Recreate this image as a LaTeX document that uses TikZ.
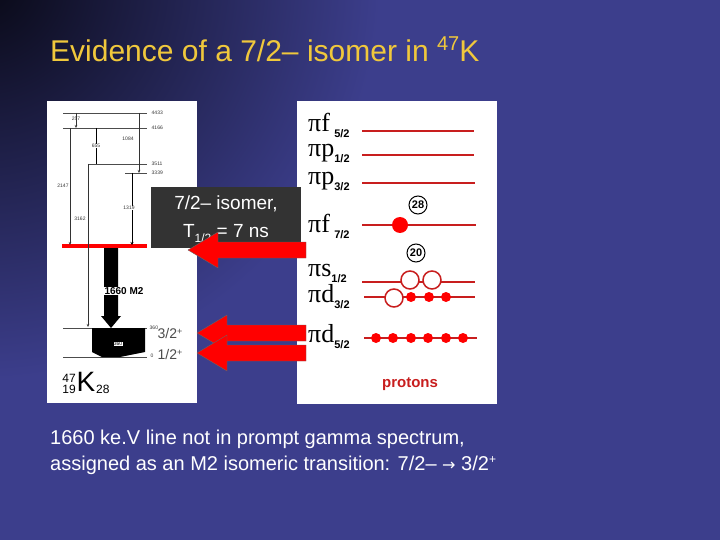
\documentclass[tikz,border=0pt]{standalone}
\usepackage{fontspec}
\setmainfont{Liberation Sans}
\newfontfamily\symf{Liberation Serif}
\newfontfamily\subf{Liberation Sans}
\usetikzlibrary{arrows.meta,calc}
\definecolor{bgA}{RGB}{8,8,20}
\definecolor{bgB}{RGB}{60,62,140}
\definecolor{lred}{RGB}{200,30,30}
\definecolor{gold}{RGB}{240,200,60}
\newcommand{\osub}[1]{\raisebox{-6pt}{\subf\bfseries\fontsize{11}{12}\selectfont #1}}
\begin{document}
\begin{tikzpicture}[x=1pt,y=-1pt,
  lvl/.style={line width=0.8pt,black!70},
  tr/.style={line width=0.5pt,black!80,-{Stealth[length=3pt,width=2.5pt]}},
  tiny/.style={font=\fontsize{5}{6}\selectfont,text=black!80,inner sep=0.5pt},
  orb/.style={draw=lred,line width=1.5pt},
  olab/.style={font=\symf\fontsize{26}{28}\selectfont,anchor=west,inner sep=0pt},
  bigarrow/.style={fill=red,draw=black!60,line width=0.4pt}]
\useasboundingbox (0,0) rectangle (720,540);
\begin{scope}
\clip (0,0) rectangle (720,540);
\fill[bgB] (0,0) rectangle (720,540);
\shade[inner color=bgA,outer color=bgB] (-20,-20) circle (400);
\end{scope}
\node[anchor=base west,text=gold,font=\fontsize{30}{36}\selectfont,inner sep=0] (title) at (50,62) {Evidence of a 7/2\textendash\ isomer in \raisebox{11pt}{\fontsize{20}{22}\selectfont 47}K};
% left panel
\fill[white] (47,101) rectangle (197,403);
\draw[lvl] (63,113) -- (147,113); \node[tiny,anchor=west] (l4433) at (151,113) {4433};
\draw[lvl] (63,128) -- (147,128); \node[tiny,anchor=west] (l4166) at (151,128) {4166};
\draw[lvl] (88,164) -- (147,164); \node[tiny,anchor=west] (l3511) at (151,164) {3511};
\draw[lvl] (125,173) -- (147,173); \node[tiny,anchor=west] (l3339) at (151,173) {3339};
\draw[red,line width=3.5pt] (62,246) -- (147,246);
\draw[lvl] (63,328) -- (147,328); \node[tiny,anchor=west] (l360) at (149,328) {360};
\draw[lvl] (63,357) -- (147,357); \node[tiny,anchor=west] (l0) at (150,356) {0};
\draw[tr] (76,113) -- (76,128); \node[tiny] (t257) at (76,119) {257};
\draw[tr] (70,128) -- (70,245); \node[tiny,fill=white] (t2147) at (63,186) {2147};
\draw[line width=0.5pt] (96,128) -- (96,164); \node[tiny,fill=white] (t655) at (96,146) {655};
\draw[tr] (139,113) -- (139,173); \node[tiny,fill=white] (t1084) at (128,139) {1084};
\draw[tr] (88,164) -- (88,327); \node[tiny,fill=white] (t3162) at (80,219) {3162};
\draw[line width=1pt,-{Stealth[length=3pt,width=3pt]}] (132,173) -- (132,245); \node[tiny,fill=white] (t1319) at (129,208) {1319};
\fill[black] (104,248) -- (118,248) -- (118,316) -- (121,316) -- (111,328) -- (101,316) -- (104,316) -- cycle;
\fill[black] (92,328) -- (145,328) -- (145,352) -- (120,357) -- (102,357) -- (92,352) -- cycle;
\node[draw=black,fill=white,font=\fontsize{5}{6}\selectfont,inner sep=0.8pt] (b360) at (118,344) {360};
\node[fill=white,font=\bfseries\fontsize{10}{12}\selectfont,inner sep=0.3pt] (m2) at (124,291) {1660 M2};
\node[font=\fontsize{28}{30}\selectfont,inner sep=0] (K) at (86,382) {K};
\node[font=\fontsize{12}{14}\selectfont,anchor=south east,inner sep=0.5pt] (A) at ([yshift=-1pt]K.west|-K.center) {47};
\node[font=\fontsize{12}{14}\selectfont,anchor=north east,inner sep=0.5pt] (Z) at ([yshift=-2pt]K.west|-K.center) {19};
\node[font=\fontsize{12}{14}\selectfont,anchor=north west,inner sep=0.5pt] (N) at ([yshift=-2pt]K.east|-K.center) {28};
% right panel
\fill[white] (297,101) rectangle (497,404);
\node[olab] (f52) at (308,125) {πf\,\osub{5/2}};
\draw[lred,line width=1.2pt] (362,131) -- (474,131);
\node[olab] (p12) at (308,153) {πp\osub{1/2}};
\draw[lred,line width=1.2pt] (362,155) -- (474,155);
\node[olab] (p32) at (308,181) {πp\osub{3/2}};
\draw[lred,line width=1.2pt] (362,183) -- (475,183);
\node[olab] (f72) at (308,226) {πf\,\osub{7/2}};
\draw[lred,line width=1.2pt] (362,225) -- (476,225);
\fill[red] (400,225) circle (8);
\node[circle,draw=black,line width=1pt,fill=white,inner sep=0.5pt,minimum size=18pt,font=\bfseries\fontsize{11}{12}\selectfont] (n28) at (418,205) {28};
\node[circle,draw=black,line width=1pt,fill=white,inner sep=0.5pt,minimum size=18pt,font=\bfseries\fontsize{11}{12}\selectfont] (n20) at (416,253) {20};
\node[olab] (s12) at (308,273) {πs\osub{1/2}};
\draw[lred,line width=1.2pt] (362,282) -- (475,282);
\node[olab] (d32) at (308,297) {πd\osub{3/2}};
\draw[lred,line width=1.2pt] (364,297) -- (475,297);
\filldraw[fill=white,orb] (410,280) circle (9);
\filldraw[fill=white,orb] (432,280) circle (9);
\filldraw[fill=white,orb] (394,298) circle (9);
\foreach \x in {411,429,446} \fill[red] (\x,297) circle (5);
\node[olab] (d52) at (308,337) {πd\osub{5/2}};
\draw[lred,line width=1.2pt] (364,338) -- (477,338);
\foreach \x in {376,393,411,428,446,463} \fill[red] (\x,338) circle (5);
\node[text=lred,font=\bfseries\fontsize{15}{16}\selectfont] (prot) at (410,384) {protons};
% gray box
\fill[black!60!gray] (151,187) rectangle (301,248);
\node[text=white,font=\fontsize{19}{22}\selectfont,inner sep=0] (iso) at (226,204) {7/2\textendash\ isomer,};
\node[text=white,font=\fontsize{19}{22}\selectfont,inner sep=0] (thalf) at (226,234) {T\raisebox{-5pt}{\fontsize{12}{12}\selectfont 1/2} = 7 ns};
% labels 3/2 1/2
\node[text=black!70,font=\fontsize{14}{16}\selectfont,inner sep=0] (j32) at (170,333) {3/2\raisebox{4pt}{\fontsize{9}{9}\selectfont +}};
\node[text=black!70,font=\fontsize{14}{16}\selectfont,inner sep=0] (j12) at (170,354) {1/2\raisebox{4pt}{\fontsize{9}{9}\selectfont +}};
% big arrows
\coordinate (a1s) at (306,250); \coordinate (a1e) at (188,250);
\coordinate (a2s) at (306,333); \coordinate (a2e) at (197,333);
\coordinate (a3s) at (306,353); \coordinate (a3e) at (197,353);
\foreach \s/\e in {a1s/a1e,a2s/a2e,a3s/a3e}{
  \path let \p1=(\s), \p2=(\e) in
   [bigarrow] (\x1,\y1-8) -- (\x2+30,\y1-8) -- (\x2+30,\y1-18) -- (\x2,\y1) -- (\x2+30,\y1+18) -- (\x2+30,\y1+8) -- (\x1,\y1+8) -- cycle;}
% bottom text
\node[text=white,anchor=base west,font=\fontsize{20}{24}\selectfont,inner sep=0] (foot) at (50,444) {1660 ke.V line not in prompt gamma spectrum,};
\node[text=white,anchor=base west,font=\fontsize{20}{24}\selectfont,inner sep=0] (foot2) at (50,470) {assigned as an M2 isomeric transition: 7/2\textendash\ {\fontspec{DejaVu Sans}\fontsize{16}{18}\selectfont→} 3/2\raisebox{7pt}{\fontsize{12}{12}\selectfont +}};
\end{tikzpicture}
\end{document}
